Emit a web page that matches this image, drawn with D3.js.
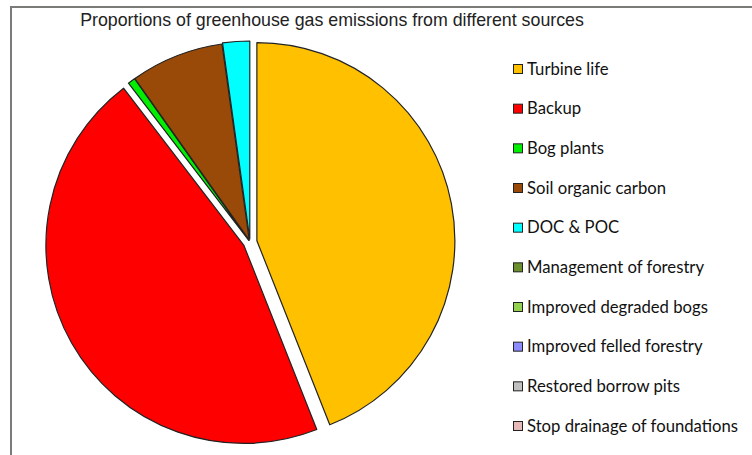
<!DOCTYPE html>
<html><head><meta charset="utf-8">
<script src="https://cdn.jsdelivr.net/npm/d3@7"></script>
<style>body{margin:0;background:#fff}svg{display:block}</style>
</head><body>
<svg id="chart" width="752" height="455"></svg>
<script>
const categories = ["Turbine life","Backup","Bog plants","Soil organic carbon","DOC & POC","Management of forestry","Improved degraded bogs","Improved felled forestry","Restored borrow pits","Stop drainage of foundations"];
const values = [44.0, 45.6, 0.6, 7.6, 2.2, 0, 0, 0, 0, 0];
const colors = ["#FFC000","#FF0000","#00EE00","#994A08","#00FFFF","#6B8E2E","#92D050","#8C8CFF","#C0C0C0","#E6B8B7"];
const explode = [7, 7, 2, 2, 3, 0, 0, 0, 0, 0];
const title = "Proportions of greenhouse gas emissions from different sources";

const svg = d3.select("#chart");
svg.append("rect").attr("x",11).attr("y",7).attr("width",800).attr("height",500)
  .attr("fill","#fff").attr("stroke","#7a7a76").attr("stroke-width",2);

svg.append("text").attr("x",332).attr("y",26).attr("text-anchor","middle")
  .attr("font-family","Liberation Sans, Arial, sans-serif").attr("font-size",17.8)
  .attr("fill","#222").text(title);

const cx = 250, cy = 242, R = 198;
const pie = d3.pie().sort(null).value(d => d.v).startAngle(0).endAngle(2*Math.PI);
const data = categories.map((c,i)=>({c, v: values[i], col: colors[i], ex: explode[i]}));
const arcs = pie(data);
const arc = d3.arc().innerRadius(0).outerRadius(R);
const g = svg.append("g").attr("transform",`translate(${cx},${cy})`);
g.selectAll("path").data(arcs.filter(a=>a.data.v>0)).join("path")
  .attr("d", arc)
  .attr("transform", a => {
    const m = (a.startAngle + a.endAngle)/2;
    return `translate(${Math.sin(m)*a.data.ex},${-Math.cos(m)*a.data.ex})`;
  })
  .attr("fill", a => a.data.col)
  .attr("stroke", "#222").attr("stroke-width", 1.2).attr("stroke-linejoin","round");

const y = d3.scalePoint().domain(categories).range([69, 426]);
const lg = svg.append("g");
const items = lg.selectAll("g").data(data).join("g")
  .attr("transform", d => `translate(513,${y(d.c)})`);
items.append("rect").attr("x",0.5).attr("y",-4.5).attr("width",9).attr("height",9)
  .attr("fill", d=>d.col).attr("stroke","#222").attr("stroke-width",1);
items.append("text").attr("x",14).attr("y",5.8)
  .attr("font-family","Lato, Carlito, Calibri, sans-serif").attr("font-size",16.7)
  .attr("fill","#111").text(d=>d.c);
</script>
</body></html>
